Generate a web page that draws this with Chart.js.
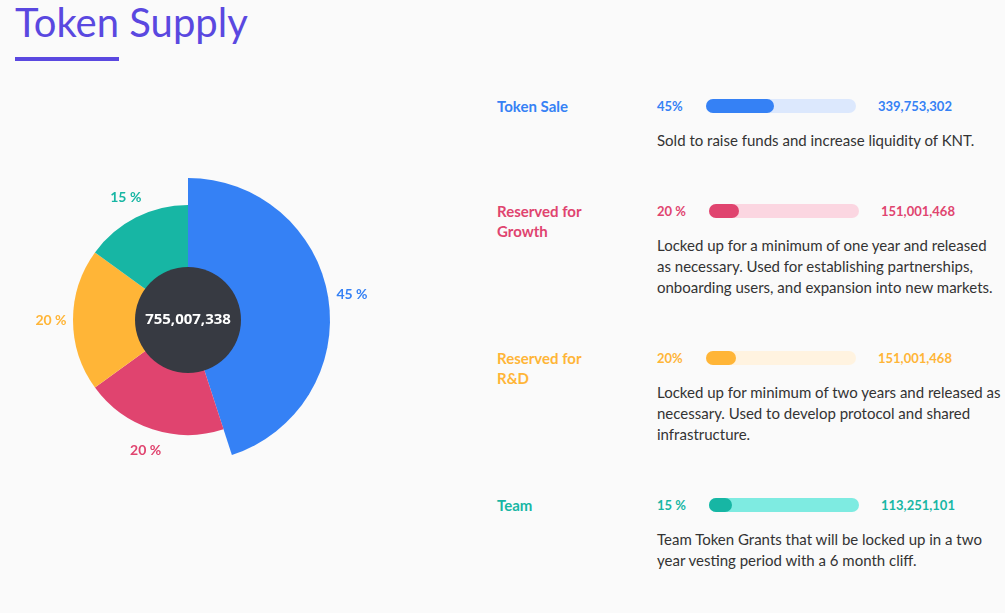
<!DOCTYPE html>
<html><head><meta charset="utf-8">
<script src="https://cdn.jsdelivr.net/npm/chart.js@4"></script>
<style>
body{margin:0;background:#fafafa;font-family:Lato,"Open Sans",sans-serif;width:1005px;height:613px;overflow:hidden;position:relative}
h1{position:absolute;left:15px;top:-2px;margin:0;font-weight:400;font-size:40px;color:#5a48e0}
.ul{position:absolute;left:15px;top:57px;width:104px;height:4px;background:#5a48e0}
#wrap{position:absolute;left:0;top:160px;width:376px;height:320px}
.row{position:absolute;left:497px;width:500px}
.lab{position:absolute;left:0;top:0;font-weight:700;font-size:15px;line-height:20px;width:110px}
.pct{position:absolute;left:160px;top:0;font-weight:700;font-size:13px;line-height:20px}
.bar{position:absolute;top:3px;width:150px;height:14px;border-radius:7px}
.fill{height:14px;border-radius:7px}
.val{position:absolute;top:0;font-weight:700;font-size:13px;line-height:20px}
.desc{position:absolute;left:160px;font-size:15px;line-height:21px;color:#333;width:345px}
</style></head><body>
<h1>Token Supply</h1><div class="ul"></div>
<div id="wrap"><canvas id="c"></canvas></div>
<div id="rows"></div>
<script>
const categories=["Token Sale","Reserved for Growth","Reserved for R&D","Team"];
const labelsHtml=["Token Sale","Reserved for<br>Growth","Reserved for<br>R&amp;D","Team"];
const shares=[45,20,20,15];
const pctLabels=["45%","20 %","20%","15 %"];
const sliceLabels=["45 %","20 %","20 %","15 %"];
const amounts=["339,753,302","151,001,468","151,001,468","113,251,101"];
const total="755,007,338";
const descs=["Sold to raise funds and increase liquidity of KNT.",
"Locked up for a minimum of one year and released as necessary. Used for establishing partnerships, onboarding users, and expansion into new markets.",
"Locked up for minimum of two years and released as necessary. Used to develop protocol and shared infrastructure.",
"Team Token Grants that will be locked up in a two year vesting period with a 6 month cliff."];
const colors=["#3581f5","#e0446f","#ffb537","#17b6a4"];
const tracks=["#dce8fd","#fbd6e1","#fff3e0","#7eebe1"];
const rowTops=[96,201,348,495];
const barLeft=[209,212,209,212], valLeft=[381,384,381,384];
const rows=document.getElementById('rows');
categories.forEach((c,i)=>{
  const d=document.createElement('div');d.className='row';d.style.top=rowTops[i]+'px';
  d.innerHTML=`<div class="lab" style="color:${colors[i]}">${labelsHtml[i]}</div>
  <div class="pct" style="color:${colors[i]}">${pctLabels[i]}</div>
  <div class="bar" style="left:${barLeft[i]}px;background:${tracks[i]}"><div class="fill" style="width:${shares[i]*1.5}px;background:${colors[i]}"></div></div>
  <div class="val" style="left:${valLeft[i]}px;color:${colors[i]}">${amounts[i]}</div>
  <div class="desc" style="top:${34}px">${descs[i]}</div>`;
  rows.appendChild(d);
});
const plug={id:'p',
 afterUpdate(ch){const m=ch.getDatasetMeta(0);m.data[0].outerRadius=142;m.data.forEach((a,i)=>{if(i)a.outerRadius=115;});},
 afterDatasetsDraw(ch){const x=ch.ctx,m=ch.getDatasetMeta(0);const a0=m.data[0];const cx=a0.x,cy=a0.y;
  x.save();x.beginPath();x.arc(cx,cy,53,0,Math.PI*2);x.fillStyle='#373a42';x.fill();
  x.fillStyle='#fff';x.font='bold 15px "Open Sans",sans-serif';x.textAlign='center';x.textBaseline='middle';x.fillText(total,cx,cy);
  x.font='bold 14px Lato,sans-serif';
  m.data.forEach((a,i)=>{const ang=(a.startAngle+a.endAngle)/2;const r=a.outerRadius+(i==0?24:22);
   x.fillStyle=colors[i];x.fillText(sliceLabels[i],cx+Math.cos(ang)*r,cy+Math.sin(ang)*r);});
  x.restore();}};
new Chart(document.getElementById('c'),{type:'pie',data:{labels:categories,datasets:[{data:shares,backgroundColor:colors,borderWidth:0}]},
 options:{responsive:true,maintainAspectRatio:false,animation:false,rotation:0,plugins:{legend:{display:false},tooltip:{enabled:false}}},plugins:[plug]});
</script></body></html>
